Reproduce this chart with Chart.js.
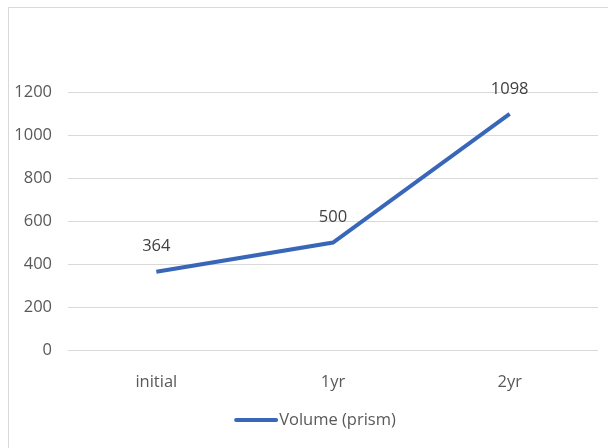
<!DOCTYPE html>
<html>
<head>
<meta charset="utf-8">
<script src="https://cdn.jsdelivr.net/npm/chart.js@4.4.1/dist/chart.umd.min.js"></script>
<style>
  html, body { margin: 0; padding: 0; background: #ffffff; overflow: hidden; }
  #wrap { position: relative; width: 608px; height: 448px; overflow: hidden; }
  #frame { position: absolute; left: 8px; top: 7px; width: 700px; height: 600px; border: 1px solid #d9d9d9; box-sizing: border-box; }
  canvas { position: absolute; left: 0; top: 0; }
</style>
</head>
<body>
<div id="wrap">
  <div id="frame"></div>
  <canvas id="c" width="608" height="448"></canvas>
</div>
<script>
const categories = ["initial", "1yr", "2yr"];
const seriesName = "Volume (prism)";
const volumeValues = [364, 500, 1098];
const yTickMin = 0;
const yTickMax = 1200;
const yTickStep = 200;

const FONT = "'Open Sans', 'Noto Sans', sans-serif";
const TEXT = "#595959";
const LINE = "#3867b9";

const dataLabels = {
  id: 'dataLabels',
  afterDatasetsDraw(chart) {
    const ctx = chart.ctx;
    ctx.save();
    ctx.font = "16.5px " + FONT;
    ctx.fillStyle = "#404040";
    ctx.textAlign = "center";
    ctx.textBaseline = "middle";
    chart.data.datasets.forEach((ds, di) => {
      const meta = chart.getDatasetMeta(di);
      meta.data.forEach((pt, i) => {
        ctx.fillText(String(ds.data[i]), pt.x, pt.y - 25);
      });
    });
    ctx.restore();
  }
};

const lineLegend = {
  id: 'lineLegend',
  afterDraw(chart) {
    const ctx = chart.ctx;
    const ds = chart.data.datasets[0];
    ctx.save();
    ctx.font = "16.5px " + FONT;
    const tw = ctx.measureText(ds.label).width;
    const lineW = 44, gap = 1;
    const total = lineW + gap + tw;
    const cx = 315, cy = 420;
    const x0 = cx - total / 2;
    ctx.strokeStyle = ds.borderColor;
    ctx.lineWidth = ds.borderWidth;
    ctx.lineCap = 'round';
    ctx.beginPath();
    ctx.moveTo(x0 + 2, cy);
    ctx.lineTo(x0 + lineW - 2, cy);
    ctx.stroke();
    ctx.fillStyle = TEXT;
    ctx.textAlign = 'left';
    ctx.textBaseline = 'middle';
    ctx.fillText(ds.label, x0 + lineW + gap, cy);
    ctx.restore();
  }
};

new Chart(document.getElementById('c'), {
  type: 'line',
  data: {
    labels: categories,
    datasets: [{
      label: seriesName,
      data: volumeValues,
      borderColor: LINE,
      backgroundColor: LINE,
      borderWidth: 4,
      pointRadius: 0,
      pointHoverRadius: 0,
      tension: 0,
      fill: false
    }]
  },
  options: {
    responsive: false,
    animation: false,
    events: [],
    layout: { padding: { top: 92, right: 10, bottom: 48, left: 0 } },
    plugins: {
      tooltip: { enabled: false },
      legend: { display: false }
    },
    scales: {
      x: {
        offset: true,
        grid: { display: false, drawTicks: false },
        border: { display: false },
        ticks: { color: TEXT, font: { family: FONT, size: 16.5 }, padding: 22 },
        afterFit(scale) { scale.height = 50; }
      },
      y: {
        min: yTickMin,
        max: yTickMax,
        grid: { color: '#d9d9d9', lineWidth: 1, drawTicks: false },
        border: { display: false },
        ticks: {
          stepSize: yTickStep, color: TEXT, font: { family: FONT, size: 16.5 }, padding: 16,
          callback: (v) => String(v)
        },
        afterFit(scale) { scale.width = 68; }
      }
    }
  },
  plugins: [dataLabels, lineLegend]
});
</script>
</body>
</html>
